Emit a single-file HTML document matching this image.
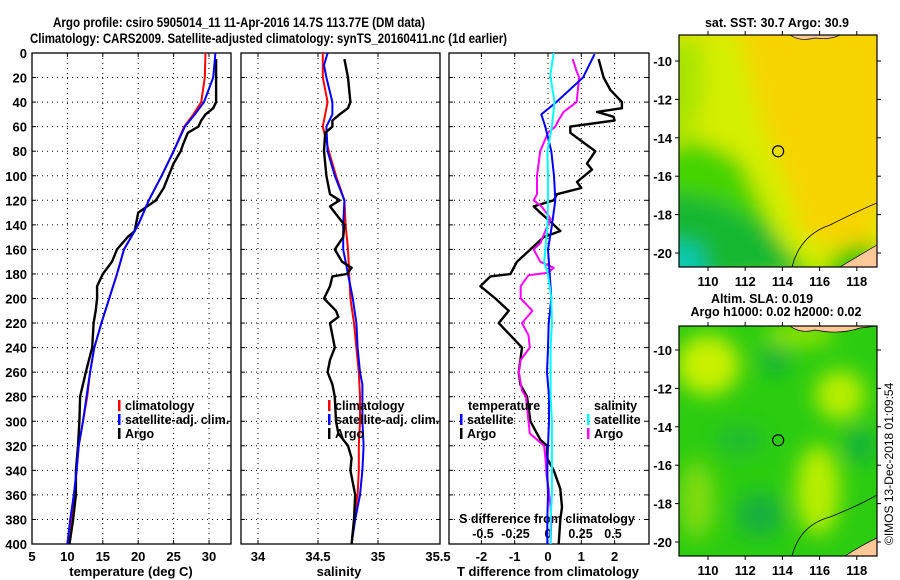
<!DOCTYPE html>
<html><head><meta charset="utf-8">
<style>
html,body{margin:0;padding:0;background:#fff;}
svg{display:block;font-family:"Liberation Sans",sans-serif;font-weight:bold;}
</style></head>
<body>
<svg id="chart" width="900" height="580" viewBox="0 0 900 580" xmlns="http://www.w3.org/2000/svg">
<defs>
<filter id="blur6" x="-20%" y="-20%" width="140%" height="140%"><feGaussianBlur stdDeviation="6"/></filter>
<filter id="blur10" x="-20%" y="-20%" width="140%" height="140%"><feGaussianBlur stdDeviation="10"/></filter>
<clipPath id="clipMap1"><rect x="679" y="35" width="198" height="232"/></clipPath>
<clipPath id="clipMap2"><rect x="679" y="326" width="198" height="230"/></clipPath>
<clipPath id="clipP1"><rect x="32" y="53" width="199" height="491"/></clipPath>
<clipPath id="clipP2"><rect x="241" y="53" width="199" height="491"/></clipPath>
<clipPath id="clipP3"><rect x="449" y="53" width="200" height="491"/></clipPath>
</defs>
<text x="53" y="27" font-size="13.5" textLength="372" lengthAdjust="spacingAndGlyphs">Argo profile: csiro 5905014_11 11-Apr-2016 14.7S 113.77E (DM data)</text>
<text x="30" y="43" font-size="13.5" textLength="477" lengthAdjust="spacingAndGlyphs">Climatology: CARS2009. Satellite-adjusted climatology: synTS_20160411.nc (1d earlier)</text>
<g id="panels"></g>
<g id="maps"></g>
<text transform="translate(893,545) rotate(-90)" font-size="12" font-weight="normal">©IMOS 13-Dec-2018 01:09:54</text>
</svg>
<script>
// ---------- data ----------
const depthTicks = [0,20,40,60,80,100,120,140,160,180,200,220,240,260,280,300,320,340,360,380,400];
const tempTicks = [5,10,15,20,25,30];
const salTicks = [34,34.5,35,35.5];
const salTickLabels = ["34","34.5","35","35.5"];
const dTTicks = [-2,-1,0,1,2];
const dSTicks = [-0.5,-0.25,0,0.25,0.5];
const dSTickLabels = ["-0.5","-0.25","0","0.25","0.5"];

const climDepth = [0,20,40,50,60,80,100,120,140,150,160,180,200,220,240,260,280,300,320,340,360,380,400];
const tempClim = [29.5,29.4,28.9,27.8,26.5,25,23.3,21.5,20,19,18,17,15.9,14.8,13.8,13.2,12.8,12.2,11.6,11.3,11,10.5,10];
const tempSat = [30.9,30.6,29.3,28,26.6,25,23.3,21.5,20,19,18,17,15.9,14.8,13.8,13.2,12.7,12.2,11.6,11.3,10.9,10.4,10];

const salClimDepth = [0,20,40,60,80,100,120,140,160,180,200,220,240,260,280,300,320,340,360,380,400];
const salClim = [34.54,34.54,34.58,34.54,34.59,34.65,34.72,34.73,34.75,34.76,34.77,34.8,34.82,34.84,34.85,34.85,34.84,34.84,34.83,34.8,34.78];
const salSatDepth = [0,10,20,40,50,60,80,100,120,140,160,180,200,220,240,260,270,300,320,340,360,380,400];
const salSat = [34.58,34.55,34.57,34.62,34.62,34.57,34.58,34.64,34.72,34.71,34.71,34.75,34.79,34.82,34.83,34.85,34.87,34.87,34.88,34.87,34.85,34.81,34.78];

const argoDepth = [5,20,40,45,50,55,60,65,75,80,90,100,110,120,130,145,150,160,170,180,190,200,210,220,240,260,280,300,320,340,360,380,400];
const argoTemp = [31,31,31,30.6,29.5,28.9,28.5,27,26.3,26,25,24.3,23.6,22.5,20,19.5,18.5,17,16.3,15,14.2,14.2,14,13.7,13.5,12.6,11.8,11.7,11.5,11.2,11.2,10.8,10.3];
const argoSalDepth = [5,20,40,45,50,55,60,65,80,100,115,120,125,135,140,150,160,170,175,180,182,190,200,210,215,220,240,250,260,270,280,300,310,320,330,340,360,380,400];
const argoSal = [34.72,34.75,34.77,34.75,34.68,34.62,34.62,34.56,34.55,34.57,34.6,34.68,34.6,34.68,34.72,34.71,34.64,34.7,34.78,34.74,34.62,34.6,34.55,34.65,34.67,34.6,34.64,34.6,34.58,34.62,34.64,34.65,34.67,34.75,34.78,34.77,34.81,34.8,34.78];

const satTDiffDepth = [1,20,40,50,60,80,100,120,140,160,180,200,220,240,260,280,300,320,340,360,380,400];
const satTDiff = [1.4,1.05,0.25,-0.2,-0.08,0.1,0.18,0.22,0.12,0,0.05,0.1,0.02,0,-0.03,0.03,0.03,0,-0.02,0,-0.02,-0.02];
const satSDiffDepth = [0,18,40,60,80,100,120,140,160,170,180,200,220,240,260,280,300,320,340,360,380,400];
const satSDiff = [0.044,0.018,0.05,0.03,-0.005,0,0,-0.005,-0.02,-0.03,0,0.025,0.03,0.02,0.02,0.02,0.03,0.03,0.03,0.03,0.02,0.02];
const argoSDiffDepth = [5,15,20,40,48,55,60,65,80,100,115,120,125,135,145,155,160,170,175,179,181,190,200,210,220,230,240,250,260,275,280,300,310,320,330,345,355,370,380,400];
const argoSDiff = [0.19,0.22,0.24,0.22,0.12,0.08,0.056,0,-0.06,-0.085,-0.085,-0.11,-0.05,0.02,-0.02,-0.06,-0.11,-0.06,0.044,0.0,-0.15,-0.21,-0.21,-0.12,-0.2,-0.15,-0.14,-0.21,-0.225,-0.2,-0.17,-0.15,-0.14,-0.03,-0.02,-0.01,0.005,0.02,0.025,0.02];
const argoTDiffDepth = [5,20,30,40,45,48,52,55,60,65,75,80,90,95,105,110,115,120,125,130,140,145,150,160,170,180,182,190,200,210,220,230,240,250,260,270,280,300,315,320,330,340,355,370,380,400];
const argoTDiff = [1.52,1.67,1.87,2.22,2.22,1.47,1.97,2.0,0.67,0.67,1.17,1.42,1.17,1.32,0.87,1.0,0.27,0.17,-0.43,-0.23,0.17,0.37,-0.13,-0.53,-0.93,-1.13,-1.73,-2.03,-1.58,-1.18,-1.48,-1.13,-0.78,-0.83,-0.88,-0.83,-0.63,-0.53,-0.23,-0.03,-0.03,0.17,0.37,0.42,0.37,0.32];

const mapLonTicks = [110,112,114,116,118];
const mapLatTicks = [-10,-12,-14,-16,-18,-20];
const argoLon = [113.77];
const argoLat = [-14.7];

// ---------- scales ----------
const Y0 = 53, Y1 = 544;
function yD(d){ return Y0 + d/400*(Y1-Y0); }
function xT(t){ return 32 + (t-5)*7.08; }
function xS(s){ return 258 + (s-34)*120; }
function xDT(t){ return 548 + t*33.3; }
function xDS(s){ return 548 + s*130; }
const NS = "http://www.w3.org/2000/svg";
const panels = document.getElementById('panels');
const maps = document.getElementById('maps');
function mk(tag, attrs, parent){ const e=document.createElementNS(NS,tag); for(const k in attrs) e.setAttribute(k,attrs[k]); (parent||panels).appendChild(e); return e; }
function txt(x,y,s,size,anchor,parent){ const e=mk('text',{x:x,y:y,'font-size':size,'text-anchor':anchor},parent); e.textContent=s; return e; }

function panelFrame(x0,x1,name){
  const r = mk('rect',{x:x0,y:Y0,width:x1-x0,height:Y1-Y0,fill:'none',stroke:'#000','stroke-width':1.3});
  
  
  depthTicks.forEach(d=>{
    if(d===0||d===400) return;
    const g = mk('line',{x1:x0,x2:x1,y1:yD(d),y2:yD(d),stroke:'#000','stroke-width':1,'stroke-dasharray':'1,4'});
    
    
    mk('line',{x1:x0,x2:x0+4,y1:yD(d),y2:yD(d),stroke:'#000'});
    mk('line',{x1:x1-4,x2:x1,y1:yD(d),y2:yD(d),stroke:'#000'});
  });
}
function vgrid(xs, fn, name){
  xs.forEach(v=>{
    const x=fn(v);
    const g = mk('line',{x1:x,x2:x,y1:Y0,y2:Y1,stroke:'#000','stroke-width':1,'stroke-dasharray':'1,4'});
    
    
    mk('line',{x1:x,x2:x,y1:Y0,y2:Y0+4,stroke:'#000'});
    mk('line',{x1:x,x2:x,y1:Y1-4,y2:Y1,stroke:'#000'});
  });
}
function series(depths, vals, fn, color, w, name, clip){
  const pts = depths.map((d,i)=>fn(vals[i]).toFixed(1)+','+yD(d).toFixed(1)).join(' ');
  const p = mk('polyline',{points:pts,fill:'none',stroke:color,'stroke-width':w,'stroke-linejoin':'round','clip-path':'url(#'+clip+')'});
  
  
}
function legendEntry(x,y,color,label,name){
  mk('rect',{x:x,y:y-10,width:2.5,height:11,fill:color});
  const t = txt(x+7,y,label,12.5,'start');
  
  
}

// Panel 1: temperature
panelFrame(32,231,'temperature-panel');
vgrid([10,15,20,25,30], xT, 'temperature');
depthTicks.forEach(d=>{
  const t = txt(27, yD(d)+5, String(d), 13, 'end');
  
  
});
tempTicks.forEach(v=>{
  const t = txt(xT(v), 561, String(v), 13, 'middle');
  
  
});
const t1 = txt(131, 576, 'temperature (deg C)', 13, 'middle');


series(climDepth, tempClim, xT, '#ff0000', 2, 'temperature-climatology-line', 'clipP1');
series(argoDepth, argoTemp, xT, '#000000', 2.4, 'temperature-argo-line', 'clipP1');
series(climDepth, tempSat, xT, '#0000ff', 2, 'temperature-satellite-line', 'clipP1');
legendEntry(118,410,'#ff0000','climatology','temperature-legend-climatology');
legendEntry(118,424,'#0000ff','satellite-adj. clim.','temperature-legend-satellite');
legendEntry(118,438,'#000000','Argo','temperature-legend-argo');

// Panel 2: salinity
panelFrame(241,440,'salinity-panel');
vgrid([34,34.5,35], xS, 'salinity');
salTicks.forEach((v,i)=>{
  const t = txt(xS(v), 561, salTickLabels[i], 13, 'middle');
  
  
});
const t2 = txt(339, 576, 'salinity', 13, 'middle');


series(salClimDepth, salClim, xS, '#ff0000', 2, 'salinity-climatology-line', 'clipP2');
series(salSatDepth, salSat, xS, '#0000ff', 2, 'salinity-satellite-line', 'clipP2');
series(argoSalDepth, argoSal, xS, '#000000', 2.4, 'salinity-argo-line', 'clipP2');
legendEntry(328,410,'#ff0000','climatology','salinity-legend-climatology');
legendEntry(328,424,'#0000ff','satellite-adj. clim.','salinity-legend-satellite');
legendEntry(328,438,'#000000','Argo','salinity-legend-argo');

// Panel 3: differences
panelFrame(449,649,'difference-panel');
vgrid(dTTicks, xDT, 'difference');
dTTicks.forEach(v=>{
  const t = txt(xDT(v), 561, String(v), 13, 'middle');
  
  
});
const t3 = txt(548, 576, 'T difference from climatology', 13, 'middle');


const t4 = txt(547, 523, 'S difference from climatology', 12.5, 'middle');


dSTicks.forEach((v,i)=>{
  const t = txt(xDS(v), 538, dSTickLabels[i], 12.5, 'middle');
  
  
});
series(argoTDiffDepth, argoTDiff, xDT, '#000000', 2.4, 't-difference-argo-line', 'clipP3');
series(argoSDiffDepth, argoSDiff, xDS, '#ff00ff', 2, 's-difference-argo-line', 'clipP3');
series(satTDiffDepth, satTDiff, xDT, '#0000ff', 2, 't-difference-satellite-line', 'clipP3');
series(satSDiffDepth, satSDiff, xDS, '#00ffff', 2, 's-difference-satellite-line', 'clipP3');
const lt = txt(468, 410, 'temperature', 12.5, 'start');


legendEntry(460,424,'#0000ff','satellite','difference-legend-t-satellite');
legendEntry(460,438,'#000000','Argo','difference-legend-t-argo');
const ls = txt(594, 410, 'salinity', 12.5, 'start');


legendEntry(587,424,'#00ffff','satellite','difference-legend-s-satellite');
legendEntry(587,438,'#ff00ff','Argo','difference-legend-s-argo');

// ---------- maps ----------
const MX0=679, MX1=877;
function xLon(l){ return 708 + (l-110)*18.6; }
function mapAxes(top, lat10, bottom, name){
  function yLat(l){ return lat10 + (-10 - l)*19.2; }
  mapLatTicks.forEach(l=>{
    const y=yLat(l);
    mk('line',{x1:MX0-4,x2:MX0,y1:y,y2:y,stroke:'#000'},maps);
    mk('line',{x1:MX1,x2:MX1+4,y1:y,y2:y,stroke:'#000'},maps);
    const t = txt(MX0-7, y+5, String(l), 13, 'end', maps);
    
    
  });
  mapLonTicks.forEach(l=>{
    const x=xLon(l);
    mk('line',{x1:x,x2:x,y1:bottom,y2:bottom+4,stroke:'#000'},maps);
    mk('line',{x1:x,x2:x,y1:top-4,y2:top,stroke:'#000'},maps);
    const t = txt(x, bottom+19, String(l), 13, 'middle', maps);
    
    
  });
  argoLon.forEach((lo,i)=>{
    const c = mk('circle',{cx:xLon(lo),cy:yLat(argoLat[i]),r:5.5,fill:'none',stroke:'#000','stroke-width':1.2},maps);
    
    
  });
  const f = mk('rect',{x:MX0,y:top,width:MX1-MX0,height:bottom-top,fill:'none',stroke:'#000','stroke-width':1.2},maps);
  
  
}
// map 1: SST field
const g1 = mk('g',{'clip-path':'url(#clipMap1)'},maps);


mk('rect',{x:679,y:35,width:198,height:232,fill:'#f7d400'},g1);
const g1b = mk('g',{filter:'url(#blur10)'},g1);
mk('path',{d:'M660,30 L740,30 L760,80 L770,130 L790,180 L800,230 L830,250 L860,240 L890,200 L900,290 L660,290 Z',fill:'#d4ee00'},g1b);
mk('path',{d:'M660,150 L700,140 L740,160 L760,200 L780,240 L800,260 L820,280 L660,290 Z',fill:'#44d400'},g1b);
mk('path',{d:'M660,190 L720,200 L770,230 L800,275 L660,290 Z',fill:'#18b830'},g1b);
mk('path',{d:'M830,260 L860,240 L880,250 L880,290 L820,290 Z',fill:'#30c800'},g1b);
mk('path',{d:'M660,240 L700,245 L710,290 L660,290 Z',fill:'#10c8b0'},g1b);
mk('path',{d:'M660,40 L700,40 L705,90 L690,140 L660,140 Z',fill:'#a8e400'},g1b);
mk('path',{d:'M740,35 L877,35 L877,250 L800,220 L760,120 Z',fill:'#f7d400',opacity:0.85},g1b);
mk('path',{d:'M792,267 Q800,235 830,225 Q860,210 877,203 L877,267 Z',fill:'none',stroke:'#000','stroke-width':0.8},g1);
mk('path',{d:'M840,267 Q860,255 877,245 L877,267 Z',fill:'#ffc896',stroke:'#000','stroke-width':0.7},g1);
mk('path',{d:'M790,35 Q800,42 815,38 Q830,40 840,35 Z',fill:'#ffc896',stroke:'#000','stroke-width':0.7},g1);
const st1 = txt(777, 27, 'sat. SST: 30.7 Argo: 30.9', 12.5, 'middle', maps);


mapAxes(35, 61, 267, 'sst-map');

// map 2: SLA field
const g2 = mk('g',{'clip-path':'url(#clipMap2)'},maps);


mk('rect',{x:679,y:326,width:198,height:230,fill:'#2ccc10'},g2);
const g2b = mk('g',{filter:'url(#blur10)'},g2);
mk('ellipse',{cx:708,cy:365,rx:32,ry:30,fill:'#c8f000'},g2b);
mk('ellipse',{cx:840,cy:395,rx:25,ry:25,fill:'#b8ee00'},g2b);
mk('ellipse',{cx:818,cy:490,rx:22,ry:45,fill:'#b8ee00'},g2b);
mk('ellipse',{cx:800,cy:335,rx:35,ry:12,fill:'#90e400'},g2b);
mk('ellipse',{cx:697,cy:500,rx:18,ry:40,fill:'#80dc10'},g2b);
mk('ellipse',{cx:775,cy:360,rx:14,ry:14,fill:'#10b040'},g2b);
mk('ellipse',{cx:860,cy:445,rx:14,ry:18,fill:'#10b040'},g2b);
mk('ellipse',{cx:760,cy:515,rx:24,ry:22,fill:'#12b040'},g2b);
mk('ellipse',{cx:740,cy:440,rx:25,ry:15,fill:'#20bc30'},g2b);
mk('path',{d:'M792,556 Q800,525 830,517 Q860,505 877,495 L877,556 Z',fill:'none',stroke:'#000','stroke-width':0.8},g2);
mk('path',{d:'M845,556 Q862,545 877,538 L877,556 Z',fill:'#ffc896',stroke:'#000','stroke-width':0.7},g2);
mk('path',{d:'M790,326 Q800,334 815,330 Q840,335 860,328 L877,326 Z',fill:'#ffc896',stroke:'#000','stroke-width':0.7},g2);
const st2 = txt(762, 303, 'Altim. SLA: 0.019', 12.5, 'middle', maps);


const st3 = txt(776, 316, 'Argo h1000: 0.02 h2000: 0.02', 12.5, 'middle', maps);


mapAxes(326, 350, 556, 'sla-map');
</script>
</body></html>
